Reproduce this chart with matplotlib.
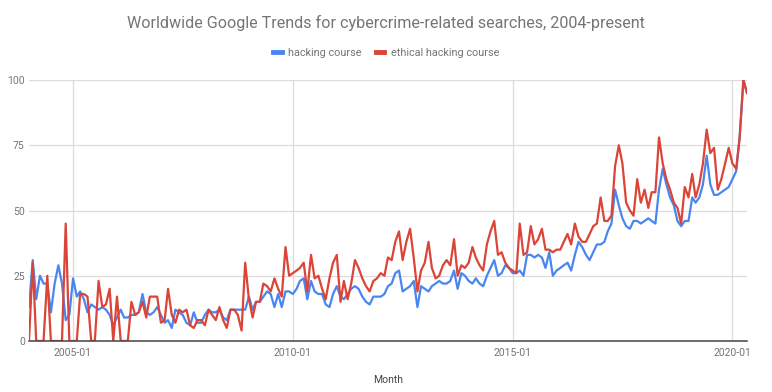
import matplotlib
matplotlib.use("Agg")
import matplotlib.pyplot as plt
import pandas as pd

plt.rcParams['font.family'] = ['Roboto', 'DejaVu Sans']

# monthly Google Trends index, 2004-01 .. 2020-05
hacking_course = [
    13, 31, 16, 25, 22, 22, 11, 22, 29, 22, 8, 10,
    24, 17, 19, 16, 11, 14, 13, 12, 13, 12, 10, 6,
    9, 12, 9, 9, 10, 10, 11, 18, 11, 10, 11, 13,
    10, 7, 8, 5, 12, 11, 10, 7, 6, 11, 7, 7,
    10, 12, 11, 11, 12, 9, 8, 12, 12, 12, 12, 12,
    17, 12, 15, 15, 17, 19, 18, 13, 18, 13, 19, 19,
    18, 20, 23, 24, 16, 23, 19, 18, 18, 14, 13, 18,
    21, 17, 16, 18, 20, 21, 20, 17, 15, 14, 17, 17,
    17, 18, 21, 22, 26, 27, 19, 20, 21, 23, 13, 21,
    20, 19, 21, 22, 23, 22, 22, 23, 27, 20, 26, 25,
    23, 22, 24, 22, 21, 25, 28, 31, 25, 26, 29, 28,
    26, 26, 27, 25, 33, 33, 32, 33, 32, 28, 34, 25,
    27, 28, 29, 30, 27, 33, 38, 36, 33, 31, 34, 37,
    37, 38, 42, 45, 58, 52, 47, 44, 43, 46, 46, 45,
    46, 47, 46, 45, 58, 66, 60, 55, 52, 46, 44, 46,
    46, 55, 53, 55, 60, 71, 60, 56, 56, 57, 58, 59,
    62, 65, 78, 100, 95,
]
ethical_hacking_course = [
    0, 30, 0, 0, 0, 25, 0, 0, 0, 0, 45, 0,
    0, 0, 18, 18, 17, 0, 0, 23, 13, 14, 20, 0,
    17, 0, 0, 0, 15, 10, 11, 15, 9, 17, 17, 17,
    7, 8, 20, 10, 7, 12, 11, 12, 6, 5, 8, 8,
    6, 12, 10, 8, 13, 8, 5, 12, 12, 10, 4, 30,
    16, 9, 15, 15, 22, 21, 19, 24, 20, 17, 36, 25,
    26, 27, 28, 30, 19, 33, 24, 25, 20, 16, 24, 30,
    33, 15, 23, 16, 22, 31, 28, 24, 21, 19, 23, 24,
    26, 25, 32, 31, 38, 42, 31, 38, 43, 32, 19, 27,
    30, 38, 28, 24, 25, 29, 31, 29, 39, 25, 29, 28,
    30, 36, 32, 29, 27, 37, 42, 46, 33, 34, 30, 28,
    27, 26, 45, 33, 34, 44, 37, 39, 43, 35, 35, 34,
    35, 35, 38, 41, 37, 45, 40, 38, 38, 41, 44, 45,
    55, 46, 46, 48, 67, 75, 68, 53, 50, 48, 62, 53,
    58, 51, 57, 57, 78, 68, 62, 58, 53, 51, 45, 59,
    55, 64, 55, 60, 68, 81, 72, 74, 58, 62, 68, 74,
    68, 66, 78, 100, 95,
]
months = pd.date_range("2004-01-01", periods=len(hacking_course), freq="MS")
tick_dates = pd.to_datetime(["2005-01-01", "2010-01-01", "2015-01-01", "2020-01-01"])
tick_labels = ["2005-01", "2010-01", "2015-01", "2020-01"]
y_ticks = [0, 25, 50, 75, 100]

fig = plt.figure(figsize=(7.72, 3.92), dpi=100)
ax = fig.add_axes([29 / 772, 1 - 341 / 392, 718 / 772, 261 / 392])

ax.plot(months, hacking_course, color="#4a86f0", lw=1.6, label="hacking course", solid_joinstyle="round")
ax.plot(months, ethical_hacking_course, color="#db4437", lw=1.6, label="ethical hacking course",
        solid_joinstyle="round")

ax.set_xlim(months[0], months[-1])
ax.set_ylim(0, 100)
ax.set_yticks(y_ticks)
ax.set_yticklabels([str(v) for v in y_ticks])
ax.set_xticks(tick_dates)
ax.set_xticklabels(tick_labels)
ax.tick_params(length=0, labelsize=7.5, labelcolor="#757575")
ax.tick_params(axis="y", pad=3)
ax.tick_params(axis="x", pad=5)
ax.grid(True, color="#dcdcdc", lw=0.9)
ax.set_axisbelow(True)
for side in ["left", "right", "top"]:
    ax.spines[side].set_visible(False)
ax.spines["bottom"].set_color("#444444")
ax.spines["bottom"].set_linewidth(1.1)

ax.set_xlabel("Month", fontsize=7.5, color="#444444", labelpad=12)

fig.text(0.5, 1 - 23 / 392, "Worldwide Google Trends for cybercrime-related searches, 2004-present",
         ha="center", va="center", fontsize=11.6, color="#757575")
fig.legend(loc="center", bbox_to_anchor=(0.5, 1 - 53 / 392), ncol=2, frameon=False,
           fontsize=7.8, labelcolor="#757575", handlelength=0.8, handletextpad=0.6,
           columnspacing=1.3)
leg = fig.legends[0]
for h in leg.legend_handles:
    h.set_linewidth(3.5)

fig.savefig("out.png", dpi=100)
